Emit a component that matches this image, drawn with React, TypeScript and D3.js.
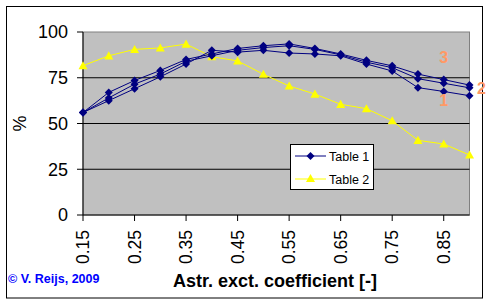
import React from 'react';
import * as d3 from 'd3';

const categories = ['0.15', '0.20', '0.25', '0.30', '0.35', '0.40', '0.45', '0.50',
    '0.55', '0.60', '0.65', '0.70', '0.75', '0.80', '0.85', '0.90'];
const tickLabels = ['0.15', '0.25', '0.35', '0.45', '0.55', '0.65', '0.75', '0.85'];
const yTicks = [0, 25, 50, 75, 100];

// three runs of table 1
const table1a = [56, 67, 73.5, 79, 85, 88, 91, 92.5, 93.5, 91, 88, 84.5, 81.5, 77, 74, 71];
const table1b = [56, 64, 71.5, 77, 84, 87, 90, 91.5, 92.5, 90.5, 87.5, 83.5, 80.5, 74.5, 72, 69.5];
const table1c = [56, 62.5, 69, 75.5, 82.5, 90, 89, 90, 88.5, 88, 87, 82.5, 78.7, 69.6, 67.5, 65.2];
const table2 = [81.6, 87, 90.5, 91.3, 93.4, 86.5, 84.2, 76.9, 70.5, 66.1, 60.5, 58.1, 51.5, 40.8, 38.8, 32.8];

const runLabels = [
    {text: '3', cat: '0.85', value: 86},
    {text: '2', cat: '0.90', value: 69},
    {text: '1', cat: '0.85', value: 62.5},
];

const NAVY = '#000080';
const YELLOW = '#FFFF00';
const font = '"Liberation Sans", Arial, sans-serif';

const App = () => {
    const width = 491;
    const height = 305;
    const left = 83, right = 469.5, top = 32, bottom = 215;

    const x = d3.scalePoint<string>().domain(categories).range([left, right]);
    const y = d3.scaleLinear().domain([0, 100]).range([bottom, top]);

    const line = d3.line<number>()
        .x((d, i) => x(categories[i]) as number)
        .y(d => y(d));

    const diamond = (cx: number, cy: number, r = 4) =>
        `M${cx},${cy - r}L${cx + r},${cy}L${cx},${cy + r}L${cx - r},${cy}Z`;
    const triangle = (cx: number, cy: number, r = 4.5) =>
        `M${cx},${cy - r}L${cx + r},${cy + r * 0.8}L${cx - r},${cy + r * 0.8}Z`;

    const navySeries = [table1a, table1b, table1c];

    return (
        <svg width={width} height={height} style={{position: 'absolute', left: 0, top: 0}}
             fontFamily={font}>
            <rect x={0} y={0} width={width} height={height} fill="#fff"/>
            <rect x={6.5} y={6.5} width={476} height={291.5} fill="none" stroke="#000"/>

            {/* plot area */}
            <rect x={left} y={top} width={right - left} height={bottom - top} fill="#C0C0C0"
                  stroke="#808080"/>
            {yTicks.filter(t => t > 0 && t < 100).map(t => (
                <line key={t} x1={left} x2={right} y1={y(t)} y2={y(t)} stroke="#000"/>
            ))}

            {/* y axis */}
            <line x1={left} x2={left} y1={top} y2={bottom} stroke="#000"/>
            {yTicks.map(t => (
                <g key={t}>
                    <line x1={left - 6} x2={left} y1={y(t)} y2={y(t)} stroke="#000"/>
                    <text x={left - 15} y={y(t)} dy="0.36em" textAnchor="end" fontSize={18}>{t}</text>
                </g>
            ))}
            <text transform={`translate(26,${(top + bottom) / 2}) rotate(-90)`} textAnchor="middle"
                  fontSize={18}>%</text>

            {/* x axis */}
            <line x1={left} x2={right} y1={bottom} y2={bottom} stroke="#000"/>
            {tickLabels.map(t => (
                <g key={t}>
                    <line x1={x(t)} x2={x(t)} y1={bottom} y2={bottom + 6} stroke="#000"/>
                    <text transform={`translate(${(x(t) as number) + 6},230) rotate(-90)`}
                          textAnchor="end" fontSize={17.5}>{t}</text>
                </g>
            ))}
            <text x={275} y={287} textAnchor="middle" fontSize={18} fontWeight="bold">
                Astr. exct. coefficient [-]
            </text>
            <text x={8} y={283} fontSize={12.5} fontWeight="bold" fill="#0000FF">© V. Reijs, 2009</text>

            {/* series */}
            <path d={line(table2) || ''} fill="none" stroke={YELLOW}/>
            {table2.map((v, i) => (
                <path key={i} d={triangle(x(categories[i]) as number, y(v))} fill={YELLOW}/>
            ))}
            {navySeries.map((s, k) => (
                <g key={k}>
                    <path d={line(s) || ''} fill="none" stroke={NAVY}/>
                    {s.map((v, i) => (
                        <path key={i} d={diamond(x(categories[i]) as number, y(v))} fill={NAVY}/>
                    ))}
                </g>
            ))}

            {runLabels.map(l => (
                <text key={l.text} x={(x(l.cat) as number) + (l.text === '2' ? 12 : 0)} y={y(l.value)}
                      dy="0.36em" textAnchor="middle" fontSize={16} fontWeight="bold"
                      fill="#FF9966">{l.text}</text>
            ))}

            {/* legend */}
            <rect x={290.5} y={144.5} width={83} height={45} fill="#fff" stroke="#000"/>
            <line x1={295} x2={326} y1={156} y2={156} stroke={NAVY}/>
            <path d={diamond(310.5, 156)} fill={NAVY}/>
            <text x={329} y={156} dy="0.36em" fontSize={12.5}>Table 1</text>
            <line x1={295} x2={326} y1={179} y2={179} stroke={YELLOW}/>
            <path d={triangle(310.5, 178.5)} fill={YELLOW}/>
            <text x={329} y={179} dy="0.36em" fontSize={12.5}>Table 2</text>
        </svg>
    );
};

export default App;
